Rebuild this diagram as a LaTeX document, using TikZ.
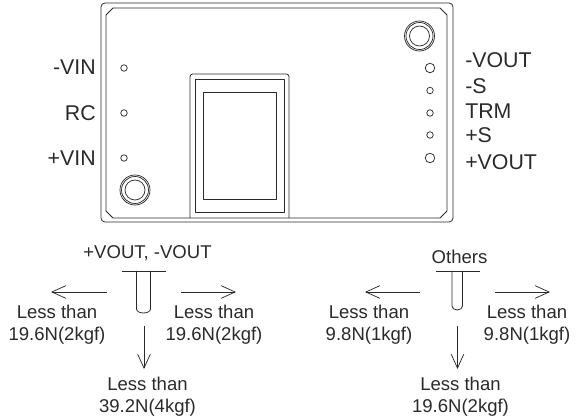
\documentclass[tikz,border=0pt]{standalone}
\usepackage{fontspec}
\setmainfont{Liberation Sans}
\usetikzlibrary{arrows.meta}
\definecolor{ink}{HTML}{2A2A2A}
\tikzset{
  part/.style={draw=ink,line width=0.6pt,line join=round},
  pinhole/.style={draw=ink,line width=0.55pt,circle,inner sep=0pt,minimum size=#1*0.75pt},
  pinlabel/.style={text=ink,font=\fontsize{16pt}{18pt}\selectfont,inner sep=0pt},
  forcelabel/.style={text=ink,font=\fontsize{13.9pt}{16.5pt}\selectfont,inner sep=0pt,align=center},
  force/.style={draw=ink,line width=0.55pt,-{Straight Barb[length=10.5pt,width=9.5pt,line width=0.55pt]}}
}
\begin{document}
\begin{tikzpicture}[x=0.75pt,y=-0.75pt]
\useasboundingbox (0,0) rectangle (583,420);
% board outline
\draw[part,rounded corners=3pt] (101,3) rectangle (453,222);
\draw[part] (113,8) -- (440,8) -- (447,15) -- (447,211) -- (440,218) -- (113,218) -- (106,211) -- (106,15) -- cycle;
% central block
\draw[part,rounded corners=2pt] (190,218) -- (190,74) -- (289,74) -- (289,218);
\draw[part] (195,79.5) rectangle (284,212);
\draw[part] (203.5,92.5) rectangle (276,199.5);
% pins
\node[pinhole=6.5] (pinA) at (124,68) {};
\node[pinhole=6.5] (pinB) at (124,113) {};
\node[pinhole=6.5] (pinC) at (124,158) {};
\node[pinhole=9.5] (pinD) at (430,68) {};
\node[pinhole=6.5] (pinE) at (430,90.5) {};
\node[pinhole=6.5] (pinF) at (430,113) {};
\node[pinhole=6.5] (pinG) at (430,135) {};
\node[pinhole=9.5] (pinH) at (430,158) {};
% mounts
\foreach \n/\x/\y in {mountA/135/190,mountB/419.5/36}{
  \node[pinhole=30] (\n o) at (\x,\y) {};
  \node[pinhole=27] (\n m) at (\x,\y) {};
  \node[pinhole=20] (\n i) at (\x,\y) {};
}
% pin labels
\node[pinlabel,anchor=east] (lVIN) at (96,67) {-VIN};
\node[pinlabel,anchor=east] (lRC) at (96,113) {RC};
\node[pinlabel,anchor=east] (lPVIN) at (96,158) {+VIN};
\node[pinlabel,anchor=west] (lVOUT) at (465,60) {-VOUT};
\node[pinlabel,anchor=west] (lS) at (465,86) {-S};
\node[pinlabel,anchor=west] (lTRM) at (465,111) {TRM};
\node[pinlabel,anchor=west] (lPS) at (465,135) {+S};
\node[pinlabel,anchor=west] (lPVOUT) at (465,162) {+VOUT};
% left terminal
\node[forcelabel] (tA) at (147.5,253) {+VOUT, -VOUT};
\draw[part] (122,271) -- (166,271);
\draw[part] (136.5,271) -- (136.5,309) arc[start angle=180,end angle=360,x radius=7,y radius=-4] -- (150.5,271);
\coordinate (aLs) at (106.7,292); \coordinate (aLe) at (51,292);
\coordinate (aRs) at (181,292); \coordinate (aRe) at (236,292);
\coordinate (aDs) at (144,326); \coordinate (aDe) at (144,369);
\draw[force] (aLs) -- (aLe);
\draw[force] (aRs) -- (aRe);
\draw[force] (aDs) -- (aDe);
\node[forcelabel] (fAL) at (57,325) {Less than\\19.6N(2kgf)};
\node[forcelabel] (fAR) at (214,325) {Less than\\19.6N(2kgf)};
\node[forcelabel] (fAD) at (147.5,397) {Less than\\39.2N(4kgf)};
% right terminal
\node[forcelabel] (tB) at (459.5,257) {Others};
\draw[part] (436,271) -- (480,271);
\draw[part] (452,271) -- (452,306) arc[start angle=180,end angle=360,x radius=5.25,y radius=-4] -- (462.5,271);
\coordinate (bLs) at (420,292); \coordinate (bLe) at (365,292);
\coordinate (bRs) at (495,292); \coordinate (bRe) at (550,292);
\coordinate (bDs) at (457.5,326); \coordinate (bDe) at (457.5,369);
\draw[force] (bLs) -- (bLe);
\draw[force] (bRs) -- (bRe);
\draw[force] (bDs) -- (bDe);
\node[forcelabel] (fBL) at (369,325) {Less than\\9.8N(1kgf)};
\node[forcelabel] (fBR) at (527,325) {Less than\\9.8N(1kgf)};
\node[forcelabel] (fBD) at (460.5,397) {Less than\\19.6N(2kgf)};
\end{tikzpicture}
\end{document}
